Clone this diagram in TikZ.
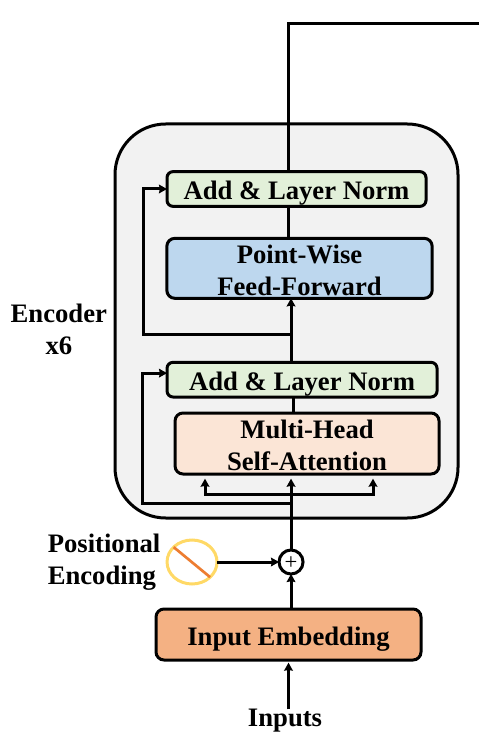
\documentclass[tikz,border=0pt]{standalone}
\usepackage{fontspec}
\setmainfont{Liberation Serif}
\usetikzlibrary{positioning,arrows.meta,shapes.geometric}
\definecolor{encgrey}{RGB}{242,242,242}
\definecolor{normgreen}{RGB}{226,240,217}
\definecolor{ffblue}{RGB}{189,215,238}
\definecolor{attpeach}{RGB}{251,229,214}
\definecolor{embtan}{RGB}{244,177,131}
\definecolor{peyellow}{RGB}{255,217,102}
\definecolor{peorange}{RGB}{237,125,49}
\tikzset{
  block/.style={draw=black, line width=2.25pt, rounded corners=6pt, align=center, outer sep=0pt,
                inner sep=0pt, text depth=0pt, text height=15.8pt, font=\fontsize{20}{24}\selectfont\bfseries},
  twoline/.style={text height=40pt},
  norm/.style={block, fill=normgreen, minimum width=197pt, minimum height=26pt, rounded corners=4.5pt},
  ffn/.style={block, twoline, fill=ffblue, minimum width=199pt, minimum height=45pt},
  att/.style={block, twoline, fill=attpeach, minimum width=198pt, minimum height=45.75pt},
  emb/.style={block, fill=embtan, minimum width=198.75pt, minimum height=38.25pt},
  enc/.style={draw=black, line width=2.25pt, fill=encgrey, rounded corners=38pt, outer sep=0pt,
              minimum width=257.25pt, minimum height=295.5pt},
  lbl/.style={inner sep=0pt, outer sep=0pt, font=\fontsize{20}{24}\selectfont\bfseries},
  flow/.style={-{Stealth[length=6pt,width=6.5pt,inset=0.6pt]}, line width=2.25pt, color=black},
  wire/.style={line width=2.25pt, color=black},
}

\begin{document}
\begin{tikzpicture}[x=0.75pt,y=-0.75pt]
\useasboundingbox (0,0) rectangle (479,741);
\node[enc] (enc) at (286.5,321) {};
\node[emb] (emb) at (288.5,634.5) {Input Embedding};
\node[circle, draw=black, line width=2.25pt, fill=white, minimum size=18pt, inner sep=0pt, outer sep=0pt,
      above=26.25pt of emb, xshift=1.9pt] (plus) {};
\node[font=\fontsize{17}{17}\selectfont, inner sep=0pt, yshift=-0.8pt] (plussign) at (plus) {+};
\node[att, above=57pt of plus, xshift=12pt] (mha) {Multi-Head\\Self-Attention};
\node[norm, minimum width=202.5pt, above=12pt of mha, xshift=-3.75pt] (addb) {Add \& Layer Norm};
\node[ffn, above=48pt of addb, xshift=-1.9pt] (ff) {Point-Wise\\Feed-Forward};
\node[norm, minimum width=194.25pt, above=24pt of ff, xshift=-2.25pt] (adda) {Add \& Layer Norm};
\node[ellipse, draw=peyellow, line width=2.25pt, fill=white, minimum width=37.5pt, minimum height=33pt,
      inner sep=0pt, outer sep=0pt, left=46.5pt of plus] (pe) {};
\node[lbl, align=left, left=5pt of pe] (pelbl) {Positional\\Encoding};
\node[lbl, align=center, left=6pt of enc, yshift=-6pt] (enclbl) {Encoder\\x6};
\node[lbl, below=37pt of emb, xshift=-2.6pt] (inputs) {Inputs};
\coordinate (skipa) at (143,334);
\coordinate (skipb) at (142,503);
\coordinate (forkl) at (205,494);
\coordinate (forkr) at (373,494);
\coordinate (out) at (479,24);
\coordinate[below=3.5pt of mha] (mhab);
\coordinate[left=2pt of plus.center] (plusl);
\coordinate[right=1.5pt of plus.center] (plusr);
\draw[peorange, line width=2pt] (pe.141) -- (pe.-40);
\draw[flow] (inputs.north -| emb) -- ([yshift=-2pt]emb.south);
\draw[flow] (plus |- emb.north) -- (plus.south);
\draw[flow] (pe.east) -- (plus.west);
\draw[flow] (plus.north) -- (plus |- mhab);
\draw[flow] (plus |- forkl) -- (forkl) -- (forkl |- mhab);
\draw[flow] (plus |- forkr) -- (forkr) -- (forkr |- mhab);
\draw[flow] (plus |- skipb) -- (skipb) |- ([yshift=4.9pt]addb.west);
\draw[wire] (plusr |- mha.north) -- (plusr |- addb.south);
\draw[flow] (plus |- addb.north) -- (plus |- ff.south);
\draw[flow] (plus |- skipa) -- (skipa) |- (adda.west);
\draw[wire] (plusl |- ff.north) -- (plusl |- adda.south);
\draw[wire] (plusl |- adda.north) |- (out);
\end{tikzpicture}
\end{document}
